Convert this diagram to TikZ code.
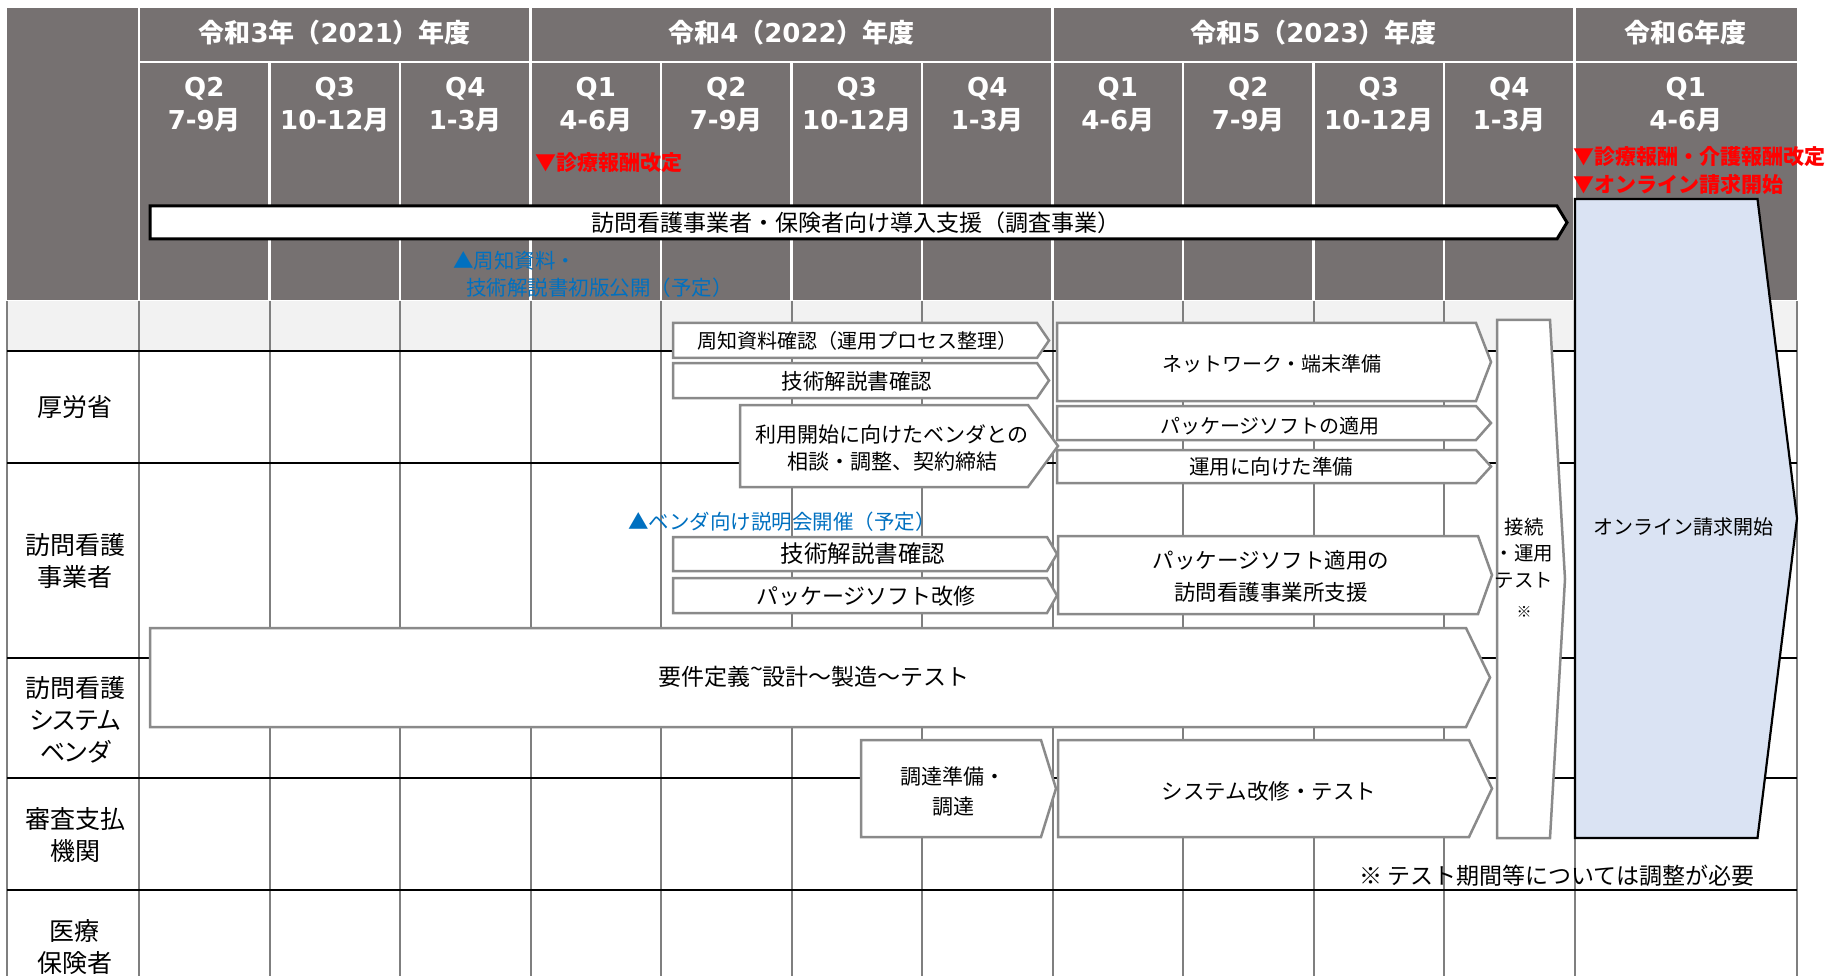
\documentclass[tikz,border=0pt]{standalone}
\usepackage{fontspec}
\setmainfont{Noto Sans CJK JP}
\newfontfamily\jpp{Noto Sans CJK JP}[RawFeature=+palt]
\newfontfamily\lat{DejaVu Sans}
\definecolor{hdrgrey}{HTML}{767171}
\definecolor{rowgrey}{HTML}{F2F2F2}
\definecolor{gridgrey}{HTML}{7F7F7F}
\definecolor{boxgrey}{HTML}{8A8A8A}
\definecolor{paleblue}{HTML}{DAE3F3}
\definecolor{redtxt}{HTML}{FF0000}
\definecolor{bluetxt}{HTML}{0070C0}
\newcommand\pentshape[6][]{\draw[#1] (#2,#3) -- (#4,#3) -- (#6,{(#3+#5)/2}) -- (#4,#5) -- (#2,#5) -- cycle;}
\newcommand\hd[1]{{\lat\bfseries #1}}
\begin{document}
\begin{tikzpicture}[x=1pt,y=-1pt,
  fs/.style 2 args={font=\fontsize{#1}{#2}\selectfont},
  txt/.style={inner sep=0pt, outer sep=0pt, align=center},
  hdr/.style={txt, text=white, fs={26}{30}},
  hdrline/.style={draw=white, line width=2.5pt},
  gridv/.style={draw=gridgrey, line width=2pt},
  gridh/.style={draw=black, line width=2.5pt},
  gbox/.style={draw=boxgrey, line width=2.5pt, fill=white, line join=miter},
  banner/.style={draw=black, line width=3pt, fill=white, line join=miter},
  bluebox/.style={draw=black, line width=2.2pt, fill=paleblue, line join=miter},
  redlbl/.style={txt, text=redtxt, font=\fontsize{21}{26}\selectfont\bfseries},
  bluelbl/.style={txt, text=bluetxt, fs={20.5}{26}},
  rowlbl/.style={txt, fs={25}{32}}
]
\useasboundingbox (0,0) rectangle (1829,976);
% header background
\fill[hdrgrey] (7,8) rectangle (1797,300);
\fill[rowgrey] (7,301.5) rectangle (1797,351);
% header white lines
\draw[hdrline] (139,8) -- (139,300);
\foreach \x in {530.5,1052.5,1574.5} \draw[hdrline] (\x,8) -- (\x,300);
\draw[hdrline] (139,62) -- (1797,62);
\foreach \k in {1,2,4,5,6,8,9,10} \draw[hdrline] ({139+130.5*\k},62) -- ({139+130.5*\k},300);
% body grid
\foreach \x in {7,1797} \draw[gridv] (\x,301.5) -- (\x,976);
\foreach \k in {0,...,11} \draw[gridv] ({139+130.5*\k},301.5) -- ({139+130.5*\k},976);
\foreach \y in {351,463,658,778,890} \draw[gridh] (7,\y) -- (1797,\y);

% year labels
\node[hdr] (y3) at (334.75,33) {\bfseries 令和\hd{3}年（\hd{2021}）年度};
\node[hdr] (y4) at (791.5,33) {\bfseries 令和\hd{4}（\hd{2022}）年度};
\node[hdr] (y5) at (1313.5,33) {\bfseries 令和\hd{5}（\hd{2023}）年度};
\node[hdr] (y6) at (1685.75,33) {\bfseries 令和\hd{6}年度};
% quarter labels
\foreach \q/\m [count=\i from 0] in {Q2/7-9,Q3/10-12,Q4/1-3,Q1/4-6,Q2/7-9,Q3/10-12,Q4/1-3,Q1/4-6,Q2/7-9,Q3/10-12,Q4/1-3}{
  \node[hdr] (q\i) at ({204.25+130.5*\i},89) {\hd{\q}};
  \node[hdr] (m\i) at ({204.25+130.5*\i},120) {\hd{\m}{\bfseries 月}};
}
\node[hdr] (q11) at (1685.75,89) {\hd{Q1}};
\node[hdr] (m11) at (1685.75,120) {\hd{4-6}{\bfseries 月}};

% milestones
\node[redlbl, anchor=west] (rev1) at (535,163) {▼診療報酬改定};
\node[redlbl, anchor=west] (rev2) at (1573,157) {▼診療報酬・介護報酬改定};
\node[redlbl, anchor=west] (rev3) at (1573,184) {▼オンライン請求開始};

% banner
\pentshape[banner]{150}{206}{1557}{239}{1567}
\node[txt, fs={23}{28}] (bannertxt) at (856,223) {訪問看護事業者・保険者向け導入支援（調査事業）};

\node[bluelbl, anchor=west] (pub1) at (453,261) {▲周知資料・};
\node[bluelbl, anchor=west] (pub2) at (466,288) {技術解説書初版公開（予定）};

% big blue shape
\pentshape[bluebox]{1575}{199}{1757.5}{838}{1797}
\node[txt, fs={20}{26}] (online) at (1683,527) {オンライン請求開始};

% connection test
\draw[gbox] (1497,320) -- (1550,320) -- (1565,579) -- (1550,838) -- (1497,838) -- cycle;
\node[txt, fs={19.5}{26.5}] (conn) at (1524,553) {接続\\・運用\\テスト};
\node[txt, fs={15}{18}] (connmark) at (1524,612) {※};

% MHLW row
\pentshape[gbox]{673}{323}{1037}{358}{1049}
\node[txt, fs={20}{26}] (b1) at (857,341) {周知資料確認（運用プロセス整理）};
\pentshape[gbox]{673}{363}{1037}{398}{1049}
\node[txt, fs={21.5}{26}] (b2) at (857,381) {技術解説書確認};
\pentshape[gbox]{740}{405}{1028}{487}{1058}
\node[txt, fs={21}{27}] (b3) at (892,448) {利用開始に向けたベンダとの\\相談・調整、契約締結};
\pentshape[gbox]{1057}{323}{1476}{401}{1491}
\node[txt, fs={20}{26}] (b6) at (1272,364) {ネットワーク・端末準備};
\pentshape[gbox]{1057}{406}{1476}{440}{1491}
\node[txt, fs={20}{26}] (b7) at (1270,426) {パッケージソフトの適用};
\pentshape[gbox]{1057}{450}{1476}{483}{1491}
\node[txt, fs={20.5}{26}] (b8) at (1271,467) {運用に向けた準備};

% provider row
\node[bluelbl, anchor=west] (vendmtg) at (628,522) {▲ベンダ向け説明会開催（予定）};
\pentshape[gbox]{673}{537}{1047}{571}{1057}
\node[txt, fs={23.5}{28}] (b4) at (863,554) {技術解説書確認};
\pentshape[gbox]{673}{578}{1047}{613}{1057}
\node[txt, fs={22}{28}] (b5) at (866,596) {パッケージソフト改修};
\pentshape[gbox]{1058}{536}{1478}{614}{1492}
\node[txt, fs={21.5}{32}] (b9) at (1271,576) {パッケージソフト適用の\\訪問看護事業所支援};

% vendor row
\pentshape[gbox]{150}{628}{1466}{727}{1490}
\node[txt, fs={23}{28}] (b10) at (814,677) {要件定義\raisebox{8pt}{\textasciitilde}設計～製造～テスト};

% payer org row
\pentshape[gbox]{861}{740}{1041}{837}{1056}
\node[txt, fs={21}{30}] (b11) at (953,792) {調達準備・\\調達};
\pentshape[gbox]{1058}{740}{1469}{837}{1492}
\node[txt, fs={21.5}{28}] (b12) at (1269,791) {システム改修・テスト};

\node[txt, fs={23}{28}, anchor=west] (note) at (1359,876) {※ テスト期間等については調整が必要};

% row labels
\node[rowlbl] (r1) at (75,407) {厚労省};
\node[rowlbl] (r2) at (75,561) {訪問看護\\事業者};
\node[rowlbl] (r3) at (75,720) {訪問看護\\{\jpp システム}\\{\jpp ベンダ}};
\node[rowlbl] (r4) at (75,835) {審査支払\\機関};
\node[rowlbl] (r5) at (75,947) {医療\\保険者};
\end{tikzpicture}
\end{document}
